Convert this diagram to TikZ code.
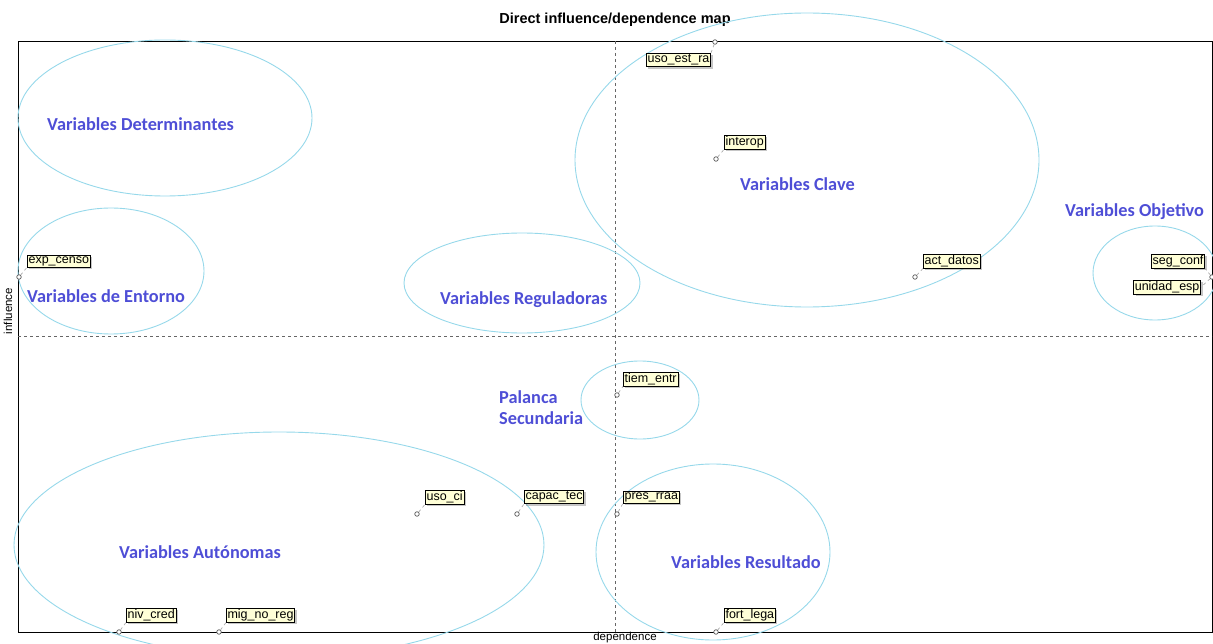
\documentclass[tikz,border=0pt]{standalone}
\usepackage{fontspec}
\setmainfont{Liberation Sans}
\newfontfamily\carlito{Carlito}
\usetikzlibrary{shadows}
\definecolor{zonec}{RGB}{150,216,234}
\definecolor{zonetext}{RGB}{78,78,214}
\definecolor{tagfill}{RGB}{255,255,215}
\begin{document}
\begin{tikzpicture}[x=1pt,y=-1pt,
  zone/.style={draw=zonec, line width=0.9pt},
  zlabel/.style={text=zonetext, font=\carlito\bfseries\fontsize{18.3}{20}\selectfont, inner sep=0pt, anchor=west},
  tagbox/.style={draw=black, fill=tagfill, font=\fontsize{12.5}{14}\selectfont, inner xsep=1.2pt, inner ysep=1.3pt, line width=0.7pt, anchor=west,
    drop shadow={shadow xshift=2pt, shadow yshift=-2pt, opacity=0.45}},
  ptm/.style={circle, draw=black!65, fill=white, line width=0.7pt, inner sep=0pt, minimum size=4.5pt},
  link/.style={draw=gray!65, dashed, line width=0.7pt},
  axislab/.style={font=\fontsize{11.5}{13}\selectfont, inner sep=0pt}]
\useasboundingbox (0,0) rectangle (1213,644);
% title
\node[font=\bfseries\fontsize{14.5}{16}\selectfont] (title) at (615,20) {Direct influence/dependence map};
% frame and axes
\draw[black, line width=0.9pt] (18,41) rectangle (1212,632);
\draw[gray!80!black, dashed, line width=0.5pt] (615,41) -- (615,632);
\draw[gray!80!black, dashed, line width=0.5pt] (18,336) -- (1212,336);
\node[axislab] (xl) at (625,637.5) {dependence};
\node[axislab, rotate=90] (yl) at (8,311) {influence};
% zones
\draw[zone] (165,118) ellipse [x radius=147pt, y radius=78pt];
\draw[zone] (111,271) ellipse [x radius=93pt, y radius=63pt];
\draw[zone] (522,283) ellipse [x radius=118pt, y radius=50pt];
\draw[zone] (807,160) ellipse [x radius=232pt, y radius=147pt];
\draw[zone] (1155,273) ellipse [x radius=62pt, y radius=47pt];
\draw[zone] (640,400) ellipse [x radius=59pt, y radius=39pt];
\draw[zone] (279,545) ellipse [x radius=265pt, y radius=113pt];
\draw[zone] (713,552) ellipse [x radius=117pt, y radius=88pt];
% zone labels
\node[zlabel] (zdet) at (47,124) {Variables Determinantes};
\node[zlabel] (zcla) at (740,184) {Variables Clave};
\node[zlabel] (zobj) at (1065,212) {Variables Objetivo};
\node[zlabel] (zent) at (27,296) {Variables de Entorno};
\node[zlabel] (zreg) at (440,300) {Variables Reguladoras};
\node[zlabel] (zpal1) at (499,397) {Palanca};
\node[zlabel] (zpal2) at (499,418) {Secundaria};
\node[zlabel] (zaut) at (119,552) {Variables Autónomas};
\node[zlabel] (zres) at (671,562) {Variables Resultado};
% points
\node[ptm] (p1) at (715,42) {};
\node[ptm] (p2) at (716,159) {};
\node[ptm] (p3) at (915,277) {};
\node[ptm] (p4) at (19,277) {};
\node[ptm] (p5) at (1212,277) {};
\node[ptm] (p6) at (617,395) {};
\node[ptm] (p7) at (417,514) {};
\node[ptm] (p8) at (517,514) {};
\node[ptm] (p9) at (617,514) {};
\node[ptm] (p10) at (119,632) {};
\node[ptm] (p11) at (219,632) {};
\node[ptm] (p12) at (716,632) {};
% tags
\node[tagbox] (t1) at (646,60) {uso\_est\_ra};
\node[tagbox] (t2) at (724,142) {interop};
\node[tagbox] (t3) at (923,261) {act\_datos};
\node[tagbox] (t4) at (27,261) {exp\_censo};
\node[tagbox, anchor=east] (t5) at (1205,261) {seg\_conf};
\node[tagbox, anchor=east] (t5b) at (1201,287) {unidad\_esp};
\node[tagbox] (t6) at (623,379) {tiem\_entr};
\node[tagbox] (t7) at (425,497) {uso\_ci};
\node[tagbox] (t8) at (524,497) {capac\_tec};
\node[tagbox] (t9) at (623,497) {pres\_rraa};
\node[tagbox] (t10) at (126,615) {niv\_cred};
\node[tagbox] (t11) at (226,615) {mig\_no\_reg};
\node[tagbox] (t12) at (724,615) {fort\_lega};
% links
\draw[link] (p1) -- (t1.north east);
\draw[link] (p2) -- (t2.south west);
\draw[link] (p3) -- (t3.south west);
\draw[link] (p4) -- (t4.south west);
\draw[link] (p5) -- (t5.south east);
\draw[link] (p5) -- (t5b.east);
\draw[link] (p6) -- (t6.south west);
\draw[link] (p7) -- (t7.south west);
\draw[link] (p8) -- (t8.south west);
\draw[link] (p9) -- (t9.south west);
\draw[link] (p10) -- (t10.south west);
\draw[link] (p11) -- (t11.south west);
\draw[link] (p12) -- (t12.south west);
\end{tikzpicture}
\end{document}
